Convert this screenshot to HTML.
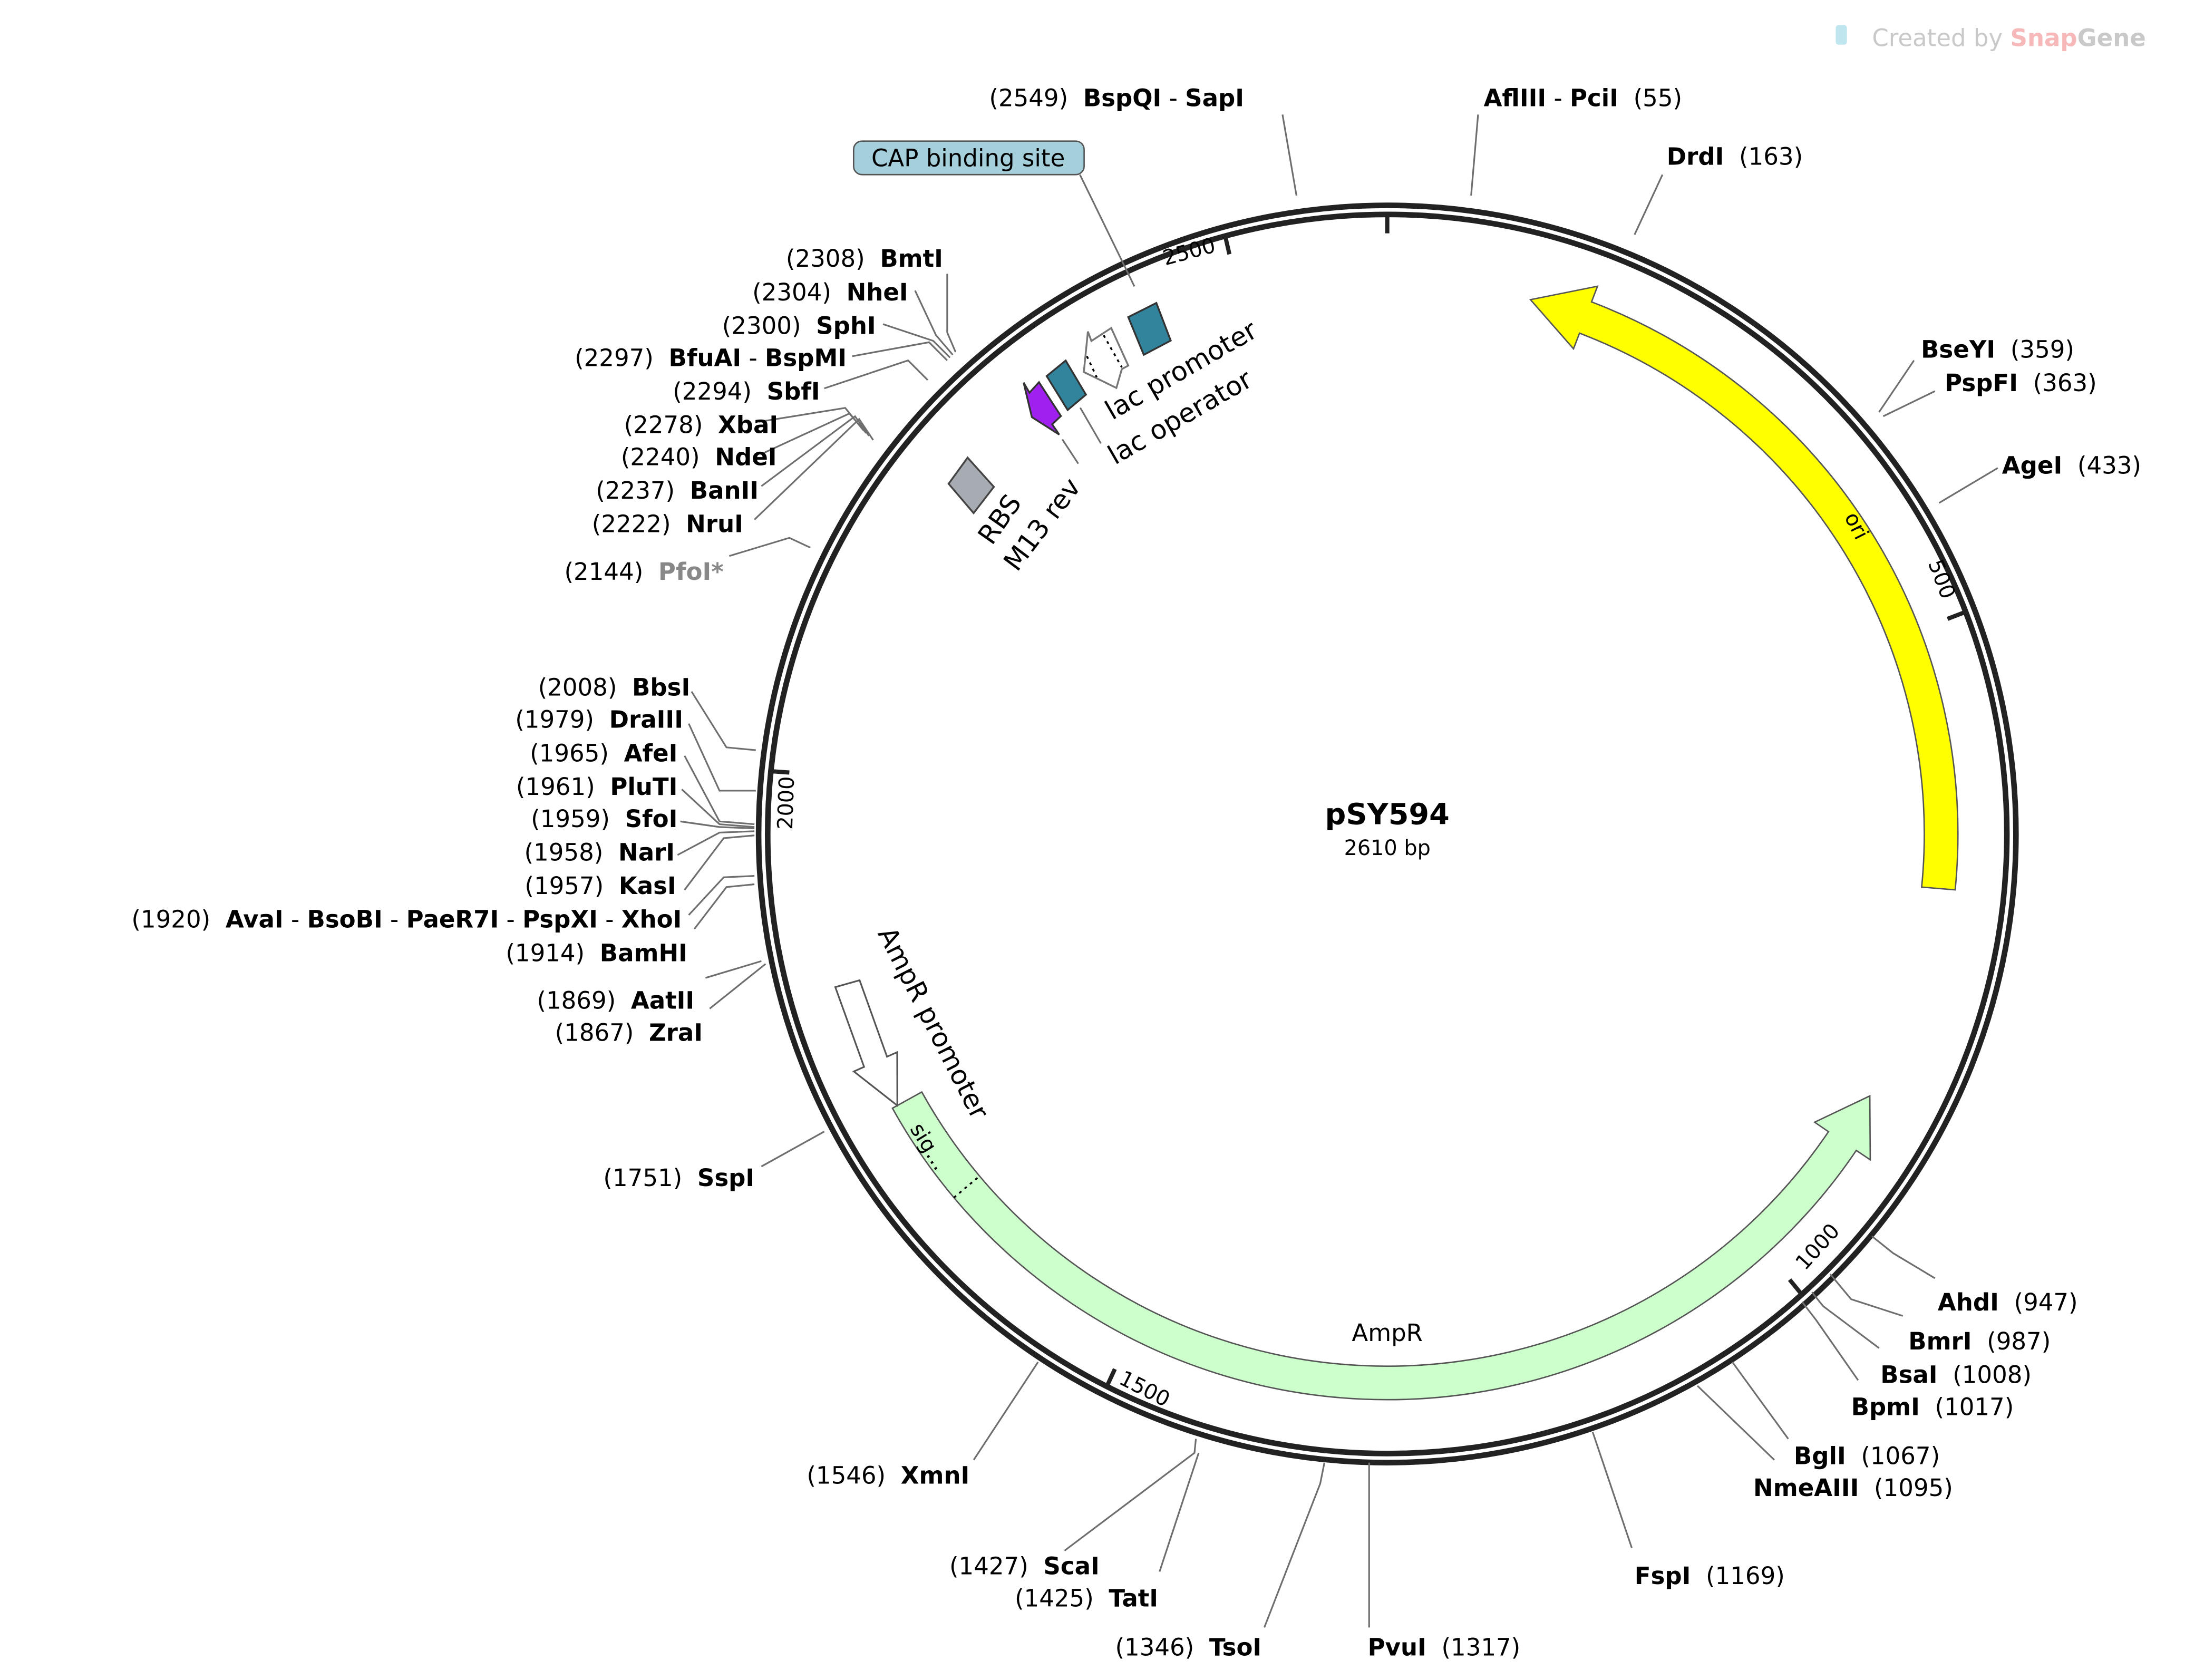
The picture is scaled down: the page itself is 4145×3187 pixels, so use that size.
<!DOCTYPE html>
<html><head><meta charset="utf-8"><style>
html,body{margin:0;padding:0;background:#fff;}
svg{display:block;}
text{font-family:"DejaVu Sans","Liberation Sans",sans-serif;font-size:17px;fill:#000;white-space:pre;}
.b{font-weight:bold;}
.ln{stroke:#6e6e6e;stroke-width:1.2;fill:none;}
.f{font-size:19px;}
</style></head><body>
<svg width="4145" height="3187" viewBox="0 0 1564 1202.6" preserveAspectRatio="none" xmlns="http://www.w3.org/2000/svg" xml:space="preserve">
<rect x="0" y="0" width="1564" height="1203" fill="#fff"/>
<text x="1340" y="33" style="font-size:17px;fill:#c9c9c9">Created by <tspan style="fill:#f6b8b8" class="b">Snap</tspan><tspan style="fill:#c9c9c9" class="b">Gene</tspan></text>
<rect x="1314" y="18" width="8" height="14" rx="2" fill="#bfe6ee"/>

<circle cx="993" cy="597" r="450" fill="none" stroke="#222" stroke-width="4"/>
<circle cx="993" cy="597" r="443.5" fill="none" stroke="#222" stroke-width="4"/>

<g stroke="#222" stroke-width="3">
<line x1="993" y1="153" x2="993" y2="167"/>
<line x1="1407" y1="438" x2="1394" y2="443"/>
<line x1="1290" y1="927" x2="1281" y2="916"/>
<line x1="792" y1="993" x2="798" y2="980"/>
<line x1="551" y1="552" x2="565" y2="553"/>
<line x1="877" y1="169" x2="880" y2="182"/>
</g>
<text transform="translate(1380,403) rotate(69)" style="font-size:15px">500</text>
<text transform="translate(1292,910) rotate(-48)" style="font-size:15px">1000</text>
<text transform="translate(800,990) rotate(27)" style="font-size:15px">1500</text>
<text transform="translate(567,594) rotate(-88)" style="font-size:15px">2000</text>
<text transform="translate(834,190) rotate(-15)" style="font-size:15px">2500</text>

<path d="M1399.5,637 A408,408 0 0 0 1139.2,216.1 L1143.5,204.9 L1095.5,214.5 L1126.3,249.7 L1130.6,238.5 A384,384 0 0 1 1375.5,635 Z" fill="#ffff00" stroke="#555" stroke-width="1"/>
<text transform="translate(1320,370) rotate(63)" style="font-size:15px">ori</text>

<path d="M638.8,793.3 A405,405 0 0 0 1328.7,823.5 L1338.7,830.2 L1338.4,784.5 L1298.9,803.3 L1308.8,810.1 A381,381 0 0 1 659.8,781.7 Z" fill="#ccffcc" stroke="#555" stroke-width="1"/>
<line x1="682.8" y1="857.3" x2="701.1" y2="841.9" stroke="#000" stroke-width="1.3" stroke-dasharray="2,3"/>
<text transform="translate(651,808) rotate(58)" style="font-size:15px">sig…</text>
<text x="993" y="960" text-anchor="middle">AmpR</text>

<path d="M597.9,706.6 L618.5,763.7 L611.2,767 L642.3,791.4 L642.2,753.2 L634.9,756.4 L615.3,701.7 Z" fill="#fff" stroke="#555" stroke-width="1.2"/>
<text transform="translate(628,668) rotate(63)" class="f">AmpR promoter</text>

<path d="M807.6,227 L827.7,216.9 L838,243.8 L818.7,254 Z" fill="#31849b" stroke="#333" stroke-width="1.3"/>
<path d="M778.7,237.3 L781.2,244.1 L795.4,234.8 L807.6,261.7 L803,264.2 L799.1,277.7 L775.8,266.3 Z" fill="#fff" stroke="#777" stroke-width="1.3"/>
<line x1="790" y1="240" x2="803" y2="263" stroke="#000" stroke-width="1.3" stroke-dasharray="2,3"/>
<line x1="778" y1="255" x2="785" y2="270" stroke="#000" stroke-width="1.3" stroke-dasharray="2,3"/>
<path d="M749.2,269.2 L762.8,258.1 L777.3,282.5 L764.2,293.5 Z" fill="#31849b" stroke="#333" stroke-width="1.3"/>
<path d="M732.7,273.9 L736.9,281.1 L743.7,273.6 L759.4,297.8 L753.1,303.7 L758.2,311.1 L738.6,298.6 Z" fill="#a020f0" stroke="#333" stroke-width="1.3"/>
<path d="M692.6,327.6 L711.4,348.5 L696.9,367.3 L679,346.3 Z" fill="#a7abb2" stroke="#444" stroke-width="1.3"/>
<line class="ln" x1="760.4" y1="314.5" x2="771.8" y2="331.9"/>
<line class="ln" x1="773.2" y1="291.8" x2="788" y2="317.4"/>
<text transform="translate(796,301) rotate(-30)" class="f">lac promoter</text>
<text transform="translate(798,333) rotate(-30)" class="f">lac operator</text>
<text transform="translate(710,391) rotate(-55)" class="f">RBS</text>
<text transform="translate(728,410) rotate(-53)" class="f">M13 rev</text>

<rect x="611" y="101" width="165" height="24" rx="6" fill="#a4cfdb" stroke="#555" stroke-width="1"/>
<text x="693" y="119" text-anchor="middle">CAP binding site</text>
<line class="ln" x1="773" y1="125" x2="812" y2="205"/>

<text x="993" y="590" text-anchor="middle" class="b" style="font-size:21px">pSY594</text>
<text x="993" y="612" text-anchor="middle" style="font-size:15px">2610 bp</text>

<g class="ln">
<polyline points="918,82 928,140"/>
<polyline points="1058,82 1053,140"/>
<polyline points="1190,125 1170,168"/>
<polyline points="1370,258 1345,295"/>
<polyline points="1385,280 1348,298"/>
<polyline points="1430,335 1388,360"/>
<polyline points="1385,915 1355,897 1340,885"/>
<polyline points="1362,942 1325,930 1310,912"/>
<polyline points="1345,965 1305,935 1297,925"/>
<polyline points="1330,988 1300,945 1290,932"/>
<polyline points="1280,1030 1240,975"/>
<polyline points="1270,1045 1215,992"/>
<polyline points="1168,1108 1140,1025"/>
<polyline points="980,1165 980,1047"/>
<polyline points="905,1165 945,1062 948,1047"/>
<polyline points="830,1125 858,1040"/>
<polyline points="762,1110 855,1040 856,1030"/>
<polyline points="697,1045 743,975"/>
<polyline points="545,835 590,810"/>
<polyline points="505,700 545,688"/>
<polyline points="508,722 548,690"/>
<polyline points="497,665 520,635 540,633"/>
<polyline points="493,655 518,628 540,627"/>
<polyline points="490,637 518,600 540,598"/>
<polyline points="485,612 515,596 540,595"/>
<polyline points="487,588 515,592 540,593"/>
<polyline points="488,565 515,590 540,592"/>
<polyline points="490,541 515,588 540,590"/>
<polyline points="493,518 515,566 541,566"/>
<polyline points="495,495 520,535 541,537"/>
<polyline points="522,398 565,385 580,392"/>
<polyline points="540,372 615,300 625,315"/>
<polyline points="545,348 612,298 622,312"/>
<polyline points="545,325 608,296 620,310"/>
<polyline points="543,302 605,292 618,308"/>
<polyline points="590,278 650,258 664,272"/>
<polyline points="610,255 665,245 678,258"/>
<polyline points="632,232 668,244 680,256"/>
<polyline points="655,208 670,240 682,254"/>
<polyline points="678,196 678,238 684,252"/>
</g>

<text x="708" y="76">(2549)  <tspan class="b">BspQI</tspan> - <tspan class="b">SapI</tspan></text>
<text x="1062" y="76"><tspan class="b">AflIII</tspan> - <tspan class="b">PciI</tspan>  (55)</text>
<text x="1193" y="118"><tspan class="b">DrdI</tspan>  (163)</text>
<text x="1375" y="256"><tspan class="b">BseYI</tspan>  (359)</text>
<text x="1392" y="280"><tspan class="b">PspFI</tspan>  (363)</text>
<text x="1433" y="339"><tspan class="b">AgeI</tspan>  (433)</text>
<text x="1387" y="938"><tspan class="b">AhdI</tspan>  (947)</text>
<text x="1366" y="966"><tspan class="b">BmrI</tspan>  (987)</text>
<text x="1346" y="990"><tspan class="b">BsaI</tspan>  (1008)</text>
<text x="1325" y="1013"><tspan class="b">BpmI</tspan>  (1017)</text>
<text x="1284" y="1048"><tspan class="b">BglI</tspan>  (1067)</text>
<text x="1255" y="1071"><tspan class="b">NmeAIII</tspan>  (1095)</text>
<text x="1170" y="1134"><tspan class="b">FspI</tspan>  (1169)</text>
<text x="979" y="1185"><tspan class="b">PvuI</tspan>  (1317)</text>
<text x="903" y="1185" text-anchor="end">(1346)  <tspan class="b">TsoI</tspan></text>
<text x="829" y="1150" text-anchor="end">(1425)  <tspan class="b">TatI</tspan></text>
<text x="787" y="1127" text-anchor="end">(1427)  <tspan class="b">ScaI</tspan></text>
<text x="694" y="1062" text-anchor="end">(1546)  <tspan class="b">XmnI</tspan></text>
<text x="540" y="849" text-anchor="end">(1751)  <tspan class="b">SspI</tspan></text>
<text x="503" y="745" text-anchor="end">(1867)  <tspan class="b">ZraI</tspan></text>
<text x="497" y="722" text-anchor="end">(1869)  <tspan class="b">AatII</tspan></text>
<text x="492" y="688" text-anchor="end">(1914)  <tspan class="b">BamHI</tspan></text>
<text x="488" y="664" text-anchor="end">(1920)  <tspan class="b">AvaI</tspan> - <tspan class="b">BsoBI</tspan> - <tspan class="b">PaeR7I</tspan> - <tspan class="b">PspXI</tspan> - <tspan class="b">XhoI</tspan></text>
<text x="484" y="640" text-anchor="end">(1957)  <tspan class="b">KasI</tspan></text>
<text x="483" y="616" text-anchor="end">(1958)  <tspan class="b">NarI</tspan></text>
<text x="485" y="592" text-anchor="end">(1959)  <tspan class="b">SfoI</tspan></text>
<text x="485" y="569" text-anchor="end">(1961)  <tspan class="b">PluTI</tspan></text>
<text x="485" y="545" text-anchor="end">(1965)  <tspan class="b">AfeI</tspan></text>
<text x="489" y="521" text-anchor="end">(1979)  <tspan class="b">DraIII</tspan></text>
<text x="494" y="498" text-anchor="end">(2008)  <tspan class="b">BbsI</tspan></text>
<text x="518" y="415" text-anchor="end">(2144)  <tspan class="b" style="fill:#888">PfoI*</tspan></text>
<text x="532" y="381" text-anchor="end">(2222)  <tspan class="b">NruI</tspan></text>
<text x="543" y="357" text-anchor="end">(2237)  <tspan class="b">BanII</tspan></text>
<text x="556" y="333" text-anchor="end">(2240)  <tspan class="b">NdeI</tspan></text>
<text x="557" y="310" text-anchor="end">(2278)  <tspan class="b">XbaI</tspan></text>
<text x="587" y="286" text-anchor="end">(2294)  <tspan class="b">SbfI</tspan></text>
<text x="606" y="262" text-anchor="end">(2297)  <tspan class="b">BfuAI</tspan> - <tspan class="b">BspMI</tspan></text>
<text x="627" y="239" text-anchor="end">(2300)  <tspan class="b">SphI</tspan></text>
<text x="650" y="215" text-anchor="end">(2304)  <tspan class="b">NheI</tspan></text>
<text x="675" y="191" text-anchor="end">(2308)  <tspan class="b">BmtI</tspan></text>
</svg>
</body></html>
